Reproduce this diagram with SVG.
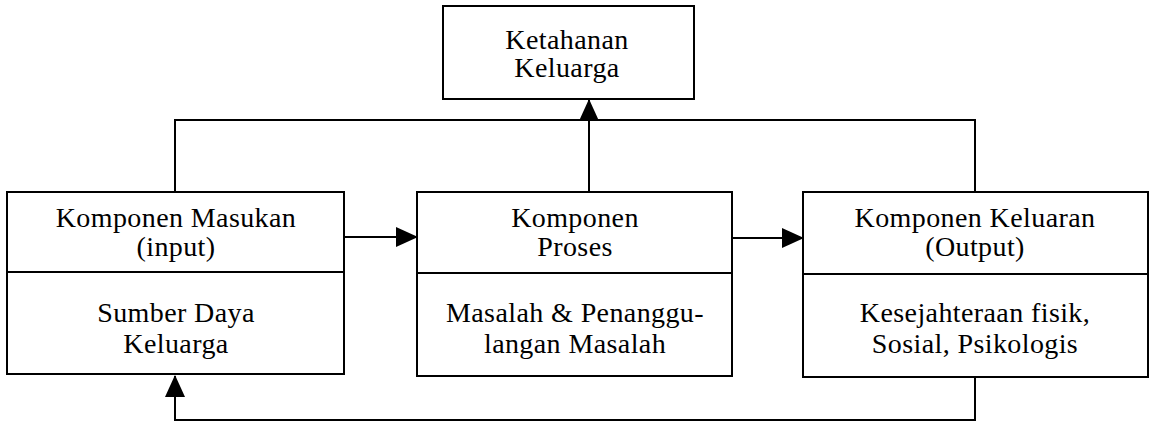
<svg xmlns="http://www.w3.org/2000/svg" width="1152" height="423" viewBox="0 0 1152 423">
<defs>
<style>
.box{fill:#fff;stroke:#000;stroke-width:2}
.ln{fill:none;stroke:#000;stroke-width:2}
text{font-family:"Liberation Serif","Times New Roman",serif;font-size:28px;fill:#000;text-anchor:middle;letter-spacing:0.4px}
</style>
<marker id="ah" markerWidth="22" markerHeight="20" refX="21" refY="10" orient="auto" markerUnits="userSpaceOnUse">
<path d="M0,0 L22,10 L0,20 Z" fill="#000"/>
</marker>
</defs>
<rect width="1152" height="423" fill="#fff"/>
<g id="connectors">
<polyline class="ln" points="175,192 175,120 975,120 975,192"/>
<line class="ln" x1="589" y1="192" x2="589" y2="100" marker-end="url(#ah)"/>
<line class="ln" x1="344" y1="237" x2="417" y2="237" marker-end="url(#ah)"/>
<line class="ln" x1="732" y1="238" x2="803" y2="238" marker-end="url(#ah)"/>
<polyline class="ln" points="975,377 975,420 175,420 175,376" marker-end="url(#ah)"/>
</g>
<g id="ketahanan">
<rect class="box" x="443" y="6" width="251" height="93"/>
<text x="567" y="49">Ketahanan</text>
<text x="567" y="77">Keluarga</text>
</g>
<g id="masukan">
<rect class="box" x="7" y="192" width="337" height="182"/>
<line class="ln" x1="7" y1="272" x2="344" y2="272"/>
<text x="176" y="227">Komponen Masukan</text>
<text x="176" y="256">(input)</text>
<text x="176" y="322">Sumber Daya</text>
<text x="176" y="353">Keluarga</text>
</g>
<g id="proses">
<rect class="box" x="417" y="192" width="315" height="184"/>
<line class="ln" x1="417" y1="273" x2="732" y2="273"/>
<text x="575" y="227">Komponen</text>
<text x="575" y="256">Proses</text>
<text x="575" y="322">Masalah &amp; Penanggu-</text>
<text x="575" y="353">langan Masalah</text>
</g>
<g id="keluaran">
<rect class="box" x="803" y="192" width="345" height="185"/>
<line class="ln" x1="803" y1="274" x2="1148" y2="274"/>
<text x="975" y="227">Komponen Keluaran</text>
<text x="975" y="256">(Output)</text>
<text x="975" y="322">Kesejahteraan fisik,</text>
<text x="975" y="353">Sosial, Psikologis</text>
</g>
</svg>
